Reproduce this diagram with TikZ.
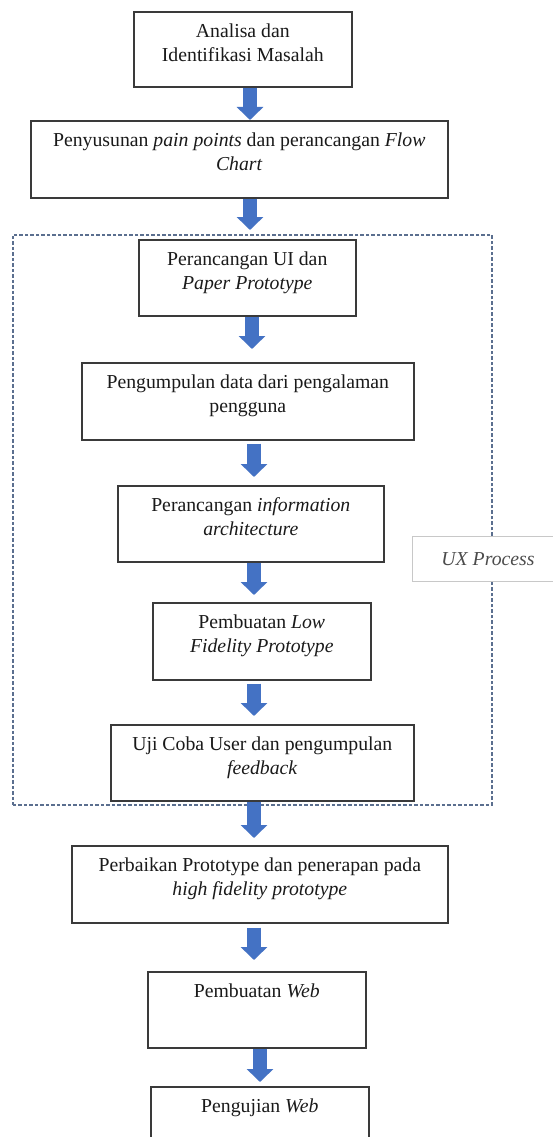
\documentclass[tikz,border=0pt]{standalone}
\usepackage{fontspec}
\setmainfont{Liberation Serif}
\usetikzlibrary{arrows.meta}
\definecolor{arrowblue}{HTML}{4472C4}
\definecolor{boxline}{HTML}{3A3A3A}
\definecolor{dashline}{HTML}{5B6F8F}
\definecolor{txt}{HTML}{1A1A1A}
\definecolor{uxline}{HTML}{C8C8C8}
\begin{document}
\begin{tikzpicture}[x=1pt,y=-1pt,
  box/.style={draw=boxline,line width=1.6pt,fill=white,inner sep=0pt,anchor=north west},
  lbl/.style={anchor=north,inner sep=0pt,align=center,text=txt,font=\fontsize{19.75}{24}\selectfont},
  blk/.style={draw=arrowblue,line width=14pt,-{Triangle[width=26pt,length=13pt]}},
  grp/.style={draw=dashline,line width=1.5pt,dash pattern=on 3.5pt off 2pt},
  uxbox/.style={draw=uxline,line width=1pt,fill=white,inner sep=0pt,anchor=north west}
]
\useasboundingbox (0,0) rectangle (552,1137);
\fill[white] (0,0) rectangle (552,1137);

% group frame
\node[grp,anchor=north west,minimum width=479pt,minimum height=570pt,inner sep=0pt] (grp) at (12,234) {};

% boxes
\node[box,minimum width=218pt,minimum height=75pt] (b1) at (133,11) {};
\node[box,minimum width=417pt,minimum height=77pt] (b2) at (30,120) {};
\node[box,minimum width=217pt,minimum height=76pt] (b3) at (138,239) {};
\node[box,minimum width=332pt,minimum height=77pt] (b4) at (81,362) {};
\node[box,minimum width=266pt,minimum height=76pt] (b5) at (117,485) {};
\node[box,minimum width=218pt,minimum height=77pt] (b6) at (152,602) {};
\node[box,minimum width=303pt,minimum height=76pt] (b7) at (110,724) {};
\node[box,minimum width=376pt,minimum height=77pt] (b8) at (71,845) {};
\node[box,minimum width=218pt,minimum height=76pt] (b9) at (147,971) {};
\node[box,minimum width=218pt,minimum height=90pt] (b10) at (150,1086) {};

% labels
\node[lbl] (t1) at ([yshift=-9.7pt]b1.north) {\strut Analisa dan\\\strut Identifikasi Masalah};
\node[lbl] (t2) at ([yshift=-9.7pt]b2.north) {\strut Penyusunan \textit{pain points} dan perancangan \textit{Flow}\\\strut\textit{Chart}};
\node[lbl] (t3) at ([yshift=-9.7pt]b3.north) {\strut Perancangan UI dan\\\strut\textit{Paper Prototype}};
\node[lbl] (t4) at ([yshift=-9.7pt]b4.north) {\strut Pengumpulan data dari pengalaman\\\strut pengguna};
\node[lbl] (t5) at ([yshift=-9.7pt]b5.north) {\strut Perancangan \textit{information}\\\strut\textit{architecture}};
\node[lbl] (t6) at ([yshift=-9.7pt]b6.north) {\strut Pembuatan \textit{Low}\\\strut\textit{Fidelity Prototype}};
\node[lbl] (t7) at ([yshift=-9.7pt]b7.north) {\strut Uji Coba User dan pengumpulan\\\strut\textit{feedback}};
\node[lbl] (t8) at ([yshift=-9.7pt]b8.north) {\strut Perbaikan Prototype dan penerapan pada\\\strut\textit{high fidelity prototype}};
\node[lbl] (t9) at ([yshift=-9.7pt]b9.north) {\strut Pembuatan \textit{Web}};
\node[lbl] (t10) at ([yshift=-9.7pt]b10.north) {\strut Pengujian \textit{Web}};

% UX process label box
\node[uxbox,minimum width=152pt,minimum height=45pt] (ux) at (412,536) {};
\node[lbl,anchor=center,text=black!70] (uxt) at (488,559) {\textit{UX Process}};

% arrow columns
\coordinate (c1) at (250,0);
\coordinate (c3) at (252,0);
\coordinate (c4) at (254,0);
\coordinate (c9) at (260,0);

\draw[blk] (b1.south -| c1) -- (b2.north -| c1);
\draw[blk,shorten >=9pt] (b2.south -| c1) -- (b3.north -| c1);
\draw[blk,shorten >=13pt] (b3.south -| c3) -- (b4.north -| c3);
\draw[blk,shorten <=3pt,shorten >=8pt] (b4.south -| c4) -- (b5.north -| c4);
\draw[blk,shorten >=7pt] (b5.south -| c4) -- (b6.north -| c4);
\draw[blk,shorten <=3pt,shorten >=8pt] (b6.south -| c4) -- (b7.north -| c4);
\draw[blk,shorten >=7pt] (b7.south -| c4) -- (b8.north -| c4);
\draw[blk,shorten <=4pt,shorten >=11pt] (b8.south -| c4) -- (b9.north -| c4);
\draw[blk,shorten >=4pt] (b9.south -| c9) -- (b10.north -| c9);
\end{tikzpicture}
\end{document}
